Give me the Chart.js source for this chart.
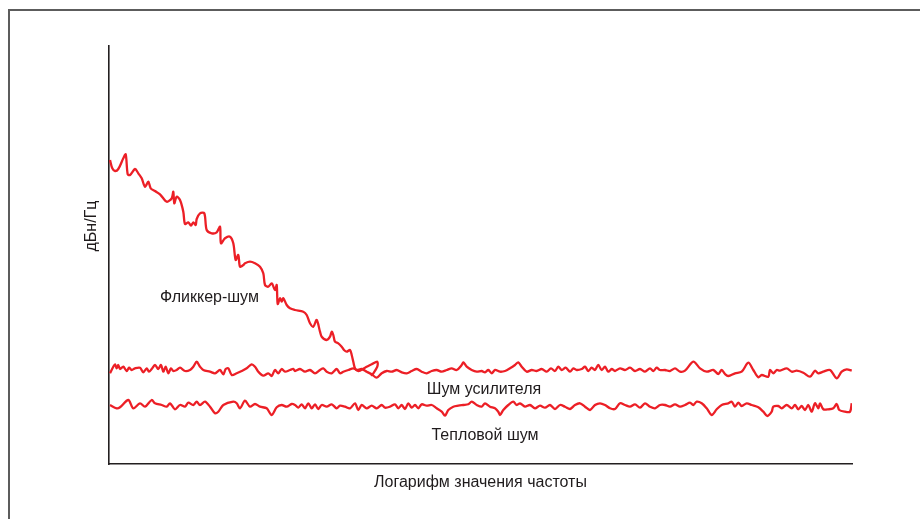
<!DOCTYPE html>
<html>
<head>
<meta charset="utf-8">
<script src="https://cdn.jsdelivr.net/npm/chart.js@4.4.1/dist/chart.umd.min.js"></script>
<style>
  html, body { margin: 0; padding: 0; background: #fff; overflow: hidden; }
  #wrap { position: relative; width: 920px; height: 519px; }
  #frame { position: absolute; left: 8px; top: 9px; width: 930px; height: 530px; border-top: 2px solid #5c5c5c; border-left: 2px solid #5c5c5c; }
  canvas { position: absolute; left: 0; top: 0; }
</style>
</head>
<body>
<div id="wrap">
  <div id="frame"></div>
  <canvas id="noiseChart" width="920" height="519"></canvas>
</div>
<script>
// Axis ranges (arbitrary units: log frequency / dB per Hz)
const xRange = [0, 743];
const yRange = [0, 418];

// Curves, [x, y] pairs
const flicker = [[1,304],[3.3,295.7],[6,293],[9.3,295],[14.3,305.7],[16.7,309.7],[18.7,289.7],[21,289],[26,295],[29.3,290.7],[32.7,285.7],[36,277.3],[39.3,282.3],[41.7,275.7],[46,273],[51,269.7],[57.7,262.3],[62.7,265.7],[64.3,272.3],[65.3,260.7],[67.7,267.3],[71,264],[74.3,252.3],[76,240],[79.3,241.7],[82,238.3],[84.3,241.7],[86.7,239],[87.7,245],[91,250.7],[95.3,250.7],[97.7,234],[102.7,230.7],[107.7,231.7],[111,237.3],[112,220.7],[116,225.7],[121,227.3],[124.3,220.7],[126.7,204],[129.3,209],[131,197.3],[134.3,199],[136,200.7],[141,202.3],[146,200.7],[151,197.3],[154.3,190.7],[156,179],[159.3,177.3],[162.7,180.7],[166,174],[167.7,179],[168.7,160],[171,165.7],[172.7,162.3],[174.3,165.7],[177.7,159],[181,155.7],[186,154],[194.3,152.3],[197.7,149],[201,140.7],[204.3,137.3],[207.7,144],[211,132.3],[212.7,127.3],[217.7,124],[221,127.3],[222.7,132.3],[224.3,129],[226,122.3],[229.3,120.7],[232.7,117.3],[235,114],[237.7,112.3],[241,114],[242.7,109],[244.3,102.3],[246,95.7],[249.3,93],[256,96.3],[262.7,99.7],[268.3,102.3],[268.3,97.3],[264.3,90.7],[262,88.3]];

const amplifier = [[1,90.7],[4.3,97.3],[6,99.7],[7.7,95.7],[9.3,99],[11,95],[14.3,97.3],[17.7,93],[20,96.3],[22.7,94],[26,95.7],[31,96.3],[34.3,91.7],[37.7,95.7],[40,92.3],[42.7,95],[46,99],[49.3,95],[52,99],[54.3,92.3],[56.7,97.3],[59.3,90.7],[62,95.7],[64.3,93],[67.7,94],[71,96.3],[76,93],[81,94],[84.3,97.3],[87.7,102.3],[91,97.3],[94.3,94],[101,92.3],[106,90.7],[111,94],[114.3,89.7],[116.7,95],[119.3,95.7],[122.7,89],[127.7,90.7],[132.7,93],[137.7,95.7],[142.7,99.7],[146,97.3],[149.3,92.3],[154.3,88.3],[159.3,90.7],[162.7,88],[166,94],[169.3,90.7],[172.7,95],[176,92.3],[181,94],[184.3,95],[186,93],[191,95],[196,92.3],[201,94],[206,90.7],[211,94],[214.3,95.7],[217.7,92.3],[222.7,90.7],[227.7,95],[231,90.7],[234.3,92.3],[239.3,94],[244.3,95.7],[247.7,94],[252.7,95],[257.7,92.3],[262.7,89.7],[267.7,86.3],[272.7,90.7],[277.7,93],[282.7,92.3],[287.7,94],[292.7,91.7],[297.7,90.7],[302.7,93],[307.7,95],[312.7,92.3],[317.7,90.7],[322.7,93],[327.7,94],[332.7,92.3],[337.7,94],[342.7,95.7],[347.7,94],[352.7,99],[354.3,101.7],[357.7,97.3],[362.7,94],[367.7,92.3],[372.7,93],[376,91.7],[379.3,94],[382.7,90.7],[386,94],[391,92.3],[396,93],[401,95.7],[406,99],[409.3,101.7],[412.7,97.3],[417.7,92.3],[422.7,94],[427.7,93],[432.7,95],[437.7,92.3],[442,95.7],[446,93],[449.3,97.3],[452.7,94],[456.7,96.3],[461,92.3],[464.3,95.7],[467.7,94],[472.7,95],[476,97.3],[479.3,93],[482.7,96.3],[486,94],[489.3,99],[492.7,94],[496,97.3],[499.3,92.3],[502.7,95],[506,93],[511,95.7],[516,94],[521,96.3],[526,93],[531,95],[536,92.3],[541,95.7],[544.3,93],[547.7,96.3],[551,94],[556,94],[561,93],[566,95.7],[571,92.3],[576,93.3],[584.3,102.3],[591,95.7],[597.7,92.3],[604.3,94],[609.3,90],[612.7,94],[616,90],[619.3,88],[626,90.7],[632.7,92.3],[639.3,101.3],[644.3,94],[649.3,86.7],[652.7,89],[659.3,87.3],[661,94],[664.3,90.7],[667.7,94],[671,93.3],[677.7,95.7],[682.7,92.3],[687.7,93.3],[694.3,91.3],[701,87.3],[706,93.3],[709.3,90.7],[714.3,92.3],[721,94],[727.7,85.7],[732.7,92.3],[737.7,94.7],[742.7,93.3]];

const thermal = [[1,59],[7.7,55.7],[11,56.7],[19.3,64],[24.3,55.7],[31,60.7],[36,57.3],[42.7,64],[46,60.7],[52.7,59],[57.7,57.3],[61,60.7],[66,54.7],[71,59],[76,57.3],[79.3,61.3],[84.3,59],[87.7,62.3],[91,59],[96,62.3],[101,57.3],[106,50.7],[109.3,52.3],[114.3,59],[124.3,62.3],[127.7,60.7],[131,55.7],[136,63.3],[141,57.3],[146,60],[151,57.3],[157.7,55.7],[162.7,49],[167.7,56.7],[172.7,59],[177.7,57.3],[182.7,60],[186,59],[189.3,56.3],[192.7,59.7],[196,55.7],[199.3,60.7],[202.7,55.7],[206,59.7],[209.3,55],[212.7,59],[217.7,57.3],[222.7,59.7],[227.7,55.7],[231,58.3],[236,57.3],[241,55.7],[246,60.7],[249.3,54],[252.7,59],[257.7,55.7],[262.7,58.3],[267.7,55.7],[272.7,59],[276,56.3],[281,57.3],[286,59.7],[289.3,55.7],[292.7,59],[296,55],[299.3,60.7],[302.7,56.3],[306,59],[309.3,55.7],[312.7,59.7],[317.7,58.3],[322.7,59],[327.7,55.7],[332.7,52.3],[336,48.3],[339.3,54],[344.3,57.3],[349.3,58.3],[354.3,59],[359.3,59.7],[362.7,62.3],[367.7,59],[372.7,57.3],[376,60.7],[381,57.3],[386,55.7],[389.3,52.3],[391,49],[394.3,54],[399.3,59],[404.3,62.3],[407.7,59],[411,60.7],[416,57.3],[421,59],[426,55.7],[431,58.3],[436,56.3],[441,59],[446,55],[451,59],[456,57.3],[461,55],[466,59],[471,60.7],[476,57.3],[481,54],[486,59],[491,60.7],[496,59],[501,55.7],[506,55],[511,60.7],[516,59],[521,57.3],[526,59.7],[531,56.3],[536,60.7],[541,57.3],[546,55.7],[551,59],[556,59],[561,57.3],[566,59.7],[571,57.3],[576,59],[581,61.3],[584.3,59],[587.7,62.3],[592.7,60.7],[597.7,55.7],[602.7,49],[607.7,54.7],[612.7,59],[619.3,60.7],[622.7,62.3],[626,57.3],[629.3,61.3],[632.7,58],[637.7,60.7],[642.7,59],[649.3,56.7],[654.3,52.3],[658.3,48],[662.7,52.3],[664.3,57.3],[669.3,58],[672.7,55.7],[677.7,59],[682.7,55.7],[686,59],[689.3,54.7],[692.7,58],[696,54],[699.3,59],[702.7,52.3],[706,60.7],[709.3,55.7],[711,60.7],[714.3,54.7],[719.3,54.7],[724.3,55.7],[727.7,60],[730.3,54],[736,52.3],[741,52.3],[742.7,60.7]];

// Text labels and their anchor points (data units)
const curveLabels = [
    { text: 'Фликкер-шум', x: 100.5, y: 166 },
    { text: 'Шум усилителя', x: 375, y: 74 },
    { text: 'Тепловой шум', x: 376, y: 28 }
];
const xTitle = 'Логарифм значения частоты';
const yTitle = 'дБн/Гц';

const RED = '#ec1f26';
const FONT = '16px "Liberation Sans", Arial, sans-serif';

function toPoints(arr) {
    return arr.map(p => ({ x: p[0], y: p[1] }));
}

function lineSet(label, arr) {
    return {
        label: label,
        data: toPoints(arr),
        showLine: true,
        borderColor: RED,
        borderWidth: 2.3,
        pointRadius: 0,
        tension: 0.3,
        fill: false
    };
}

// draws labels and axis titles in the picture
const textPlugin = {
    id: 'noiseText',
    afterDraw(chart) {
        const ctx = chart.ctx;
        const xs = chart.scales.x, ys = chart.scales.y;
        const area = chart.chartArea;
        ctx.save();
        ctx.font = FONT;
        ctx.fillStyle = '#1f1b1c';
        ctx.textAlign = 'center';
        ctx.textBaseline = 'middle';
        curveLabels.forEach(l => {
            ctx.fillText(l.text, xs.getPixelForValue(l.x), ys.getPixelForValue(l.y));
        });
        ctx.fillText(xTitle, (area.left + area.right) / 2, area.bottom + 19);
        ctx.translate(area.left - 17, area.top + 180);
        ctx.rotate(-Math.PI / 2);
        ctx.fillText(yTitle, 0, 0);
        ctx.restore();
    }
};

const chartCtx = document.getElementById('noiseChart').getContext('2d');
new Chart(chartCtx, {
    type: 'scatter',
    data: {
        datasets: [
            lineSet('Фликкер-шум', flicker),
            lineSet('Шум усилителя', amplifier),
            lineSet('Тепловой шум', thermal)
        ]
    },
    options: {
        responsive: false,
        animation: false,
        layout: { padding: { left: 0, top: 46, right: 68, bottom: 0 } },
        plugins: { legend: { display: false }, tooltip: { enabled: false } },
        scales: {
            x: {
                type: 'linear', min: xRange[0], max: xRange[1],
                grid: { display: false, drawTicks: false },
                border: { display: true, color: '#231f20', width: 1.6 },
                ticks: { display: false },
                afterFit(scale) { scale.height = 55; }
            },
            y: {
                type: 'linear', min: yRange[0], max: yRange[1],
                grid: { display: false, drawTicks: false },
                border: { display: true, color: '#231f20', width: 1.6 },
                ticks: { display: false },
                afterFit(scale) { scale.width = 109; }
            }
        }
    },
    plugins: [textPlugin]
});
</script>
</body>
</html>
